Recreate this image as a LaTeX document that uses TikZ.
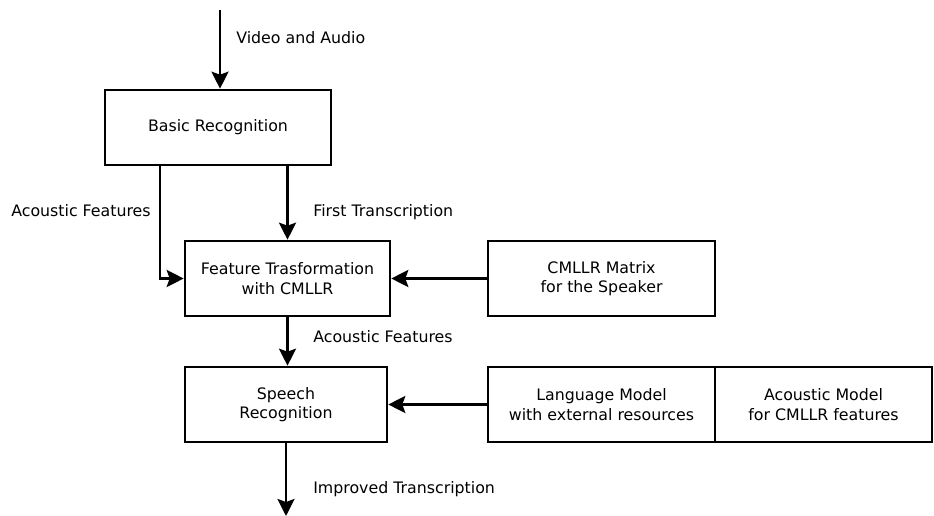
\documentclass[tikz,border=0pt]{standalone}
\usepackage{fontspec}
\setmainfont{DejaVu Sans}
\usetikzlibrary{arrows.meta,positioning}

\begin{document}
\begin{tikzpicture}[x=1pt,y=-1pt,line width=2.6pt,
	font=\fontsize{15.8}{19.5}\selectfont,
	>={Stealth[length=17pt,width=17pt,inset=3pt]},
	block/.style={draw,rectangle,align=center,minimum height=75pt,inner sep=0pt},
	lbl/.style={anchor=base west,inner sep=0pt}]

	\useasboundingbox (0,0) rectangle (934,516);

	% boxes
	\node [block,minimum width=226pt] (basic) at (218,127.5) {Basic Recognition};
	\node [block,minimum width=205pt] (feat) at (287.5,278.5) {Feature Trasformation\\with CMLLR};
	\node [block,minimum width=227pt] (cmllr) at (601.5,278.5) {CMLLR Matrix\\for the Speaker};
	\node [block,minimum width=202pt] (speech) at (286,404.5) {Speech\\Recognition};
	\node [block,minimum width=227pt] (lm) at (601.5,404.5) {Language Model\\with external resources};
	\node [block,minimum width=217pt,anchor=west] (am) at ([xshift=-2.6pt]lm.east) {Acoustic Model\\for CMLLR features};

	\coordinate (in) at (220,10);
	\coordinate (out) at (speech.south |- 0,516);

	% connectors
	\draw [->] (in) -- (in |- basic.north);
	\draw [->] ([xshift=-58pt]basic.south) |- (feat.west);
	\draw [->] (feat.north |- basic.south) -- (feat.north);
	\draw [->] (cmllr.west) -- (feat.east);
	\draw [->] (feat.south) -- (feat.south |- speech.north);
	\draw [->] (lm.west) -- (speech.east);
	\draw [->] (speech.south) -- (out);

	% labels
	\node [lbl] (vid) at (235,43.5) {Video and Audio};
	\node [lbl] (acl) at (10,216.5) {Acoustic Features};
	\node [lbl] (first) at (312,216.5) {First Transcription};
	\node [lbl] (acr) at (312,342.5) {Acoustic Features};
	\node [lbl] (impr) at (312,493.5) {Improved Transcription};
\end{tikzpicture}
\end{document}
